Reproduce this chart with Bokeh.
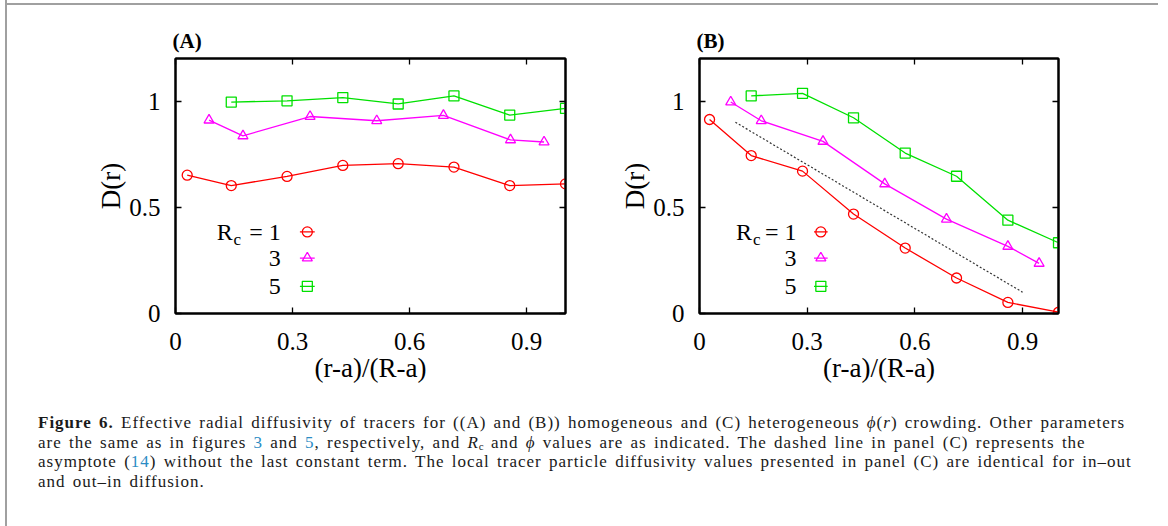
from bokeh.plotting import figure
from bokeh.models import Range1d, LinearAxis, FixedTicker, Label, Div, Spacer, Title
from bokeh.layouts import row, column
from bokeh.embed import file_html
from bokeh.resources import INLINE

# ---------------- data ----------------
x_ticks = [0, 0.3, 0.6, 0.9]
x_tick_labels = ["0", "0.3", "0.6", "0.9"]
y_ticks = [0, 0.5, 1]
y_tick_labels = ["0", "0.5", "1"]
x_title = "(r-a)/(R-a)"
y_title = "D(r)"
series_names = ["1", "3", "5"]

# Panel A (homogeneous)
a_rc1_x = [0.03, 0.143, 0.286, 0.429, 0.571, 0.714, 0.857, 1.0]
a_rc1_y = [0.651, 0.602, 0.645, 0.697, 0.705, 0.689, 0.602, 0.61]
a_rc3_x = [0.086, 0.173, 0.345, 0.516, 0.687, 0.859, 0.945]
a_rc3_y = [0.91, 0.836, 0.927, 0.907, 0.932, 0.817, 0.807]
a_rc5_x = [0.143, 0.286, 0.429, 0.571, 0.714, 0.857, 1.0]
a_rc5_y = [0.995, 1.001, 1.016, 0.986, 1.024, 0.934, 0.965]

# Panel B
b_rc1_x = [0.028, 0.144, 0.287, 0.429, 0.573, 0.716, 0.859, 1.0]
b_rc1_y = [0.913, 0.743, 0.670, 0.468, 0.308, 0.167, 0.052, 0.006]
b_rc3_x = [0.087, 0.172, 0.344, 0.516, 0.688, 0.859, 0.946]
b_rc3_y = [0.995, 0.907, 0.810, 0.610, 0.444, 0.316, 0.236]
b_rc5_x = [0.144, 0.287, 0.429, 0.573, 0.716, 0.859, 1.0]
b_rc5_y = [1.024, 1.036, 0.921, 0.755, 0.646, 0.439, 0.333]
b_asym_x = [0.1, 0.9]
b_asym_y = [0.9, 0.1]

# ---------------- style ----------------
FONT = "Liberation Serif"
COLORS = ["#ff0000", "#ff00ff", "#00e000"]
MARKERS = ["circle", "triangle", "square"]
GRAY = "#a0a0a0"


def style_axis(ax):
    ax.axis_line_width = 2
    ax.axis_line_color = "black"
    ax.major_tick_in = 6
    ax.major_tick_out = 0
    ax.major_tick_line_width = 1.3
    ax.major_tick_line_color = "black"
    ax.minor_tick_line_color = None
    ax.major_label_text_font = FONT
    ax.major_label_text_font_size = "25px"
    ax.major_label_text_color = "black"
    ax.axis_label_text_font = FONT
    ax.axis_label_text_font_size = "27px"
    ax.axis_label_text_font_style = "normal"
    ax.axis_label_text_color = "black"


def make_panel(width, left, right, tag, xs, ys, asym=None):
    ttl = Title(text=tag, align="left", offset=-3, text_font=FONT, text_font_size="21px",
                text_font_style="bold", text_color="black", standoff=11)
    p = figure(width=width, height=390, min_border_left=left, min_border_right=right,
               min_border_top=53, min_border_bottom=82,
               x_range=Range1d(0, 1), y_range=Range1d(0, 1.2),
               output_backend="svg", toolbar_location=None, title=ttl,
               x_axis_label=x_title, y_axis_label=y_title)
    p.grid.visible = False
    p.outline_line_color = "black"
    p.outline_line_width = 2
    p.background_fill_color = "white"
    p.border_fill_color = "white"

    xa = p.xaxis[0]
    xa.ticker = FixedTicker(ticks=x_ticks)
    xa.major_label_overrides = {float(v): l for v, l in zip(x_ticks, x_tick_labels)}
    style_axis(xa)
    xa.major_label_standoff = 19
    xa.axis_label_standoff = 0

    ya = p.yaxis[0]
    ya.ticker = FixedTicker(ticks=y_ticks)
    ya.major_label_overrides = {float(v): l for v, l in zip(y_ticks, y_tick_labels)}
    style_axis(ya)
    ya.major_label_standoff = 15
    ya.axis_label_standoff = 0

    top = LinearAxis(ticker=FixedTicker(ticks=x_ticks),
                     major_label_overrides={float(v): "" for v in x_ticks})
    style_axis(top)
    top.major_label_standoff = 0
    p.add_layout(top, "above")
    rgt = LinearAxis(ticker=FixedTicker(ticks=y_ticks),
                     major_label_overrides={float(v): "" for v in y_ticks})
    style_axis(rgt)
    rgt.major_label_standoff = 0
    p.add_layout(rgt, "right")

    if asym is not None:
        p.line(asym[0], asym[1], line_color="#333333", line_width=1.2, line_dash="2 2")

    for x, y, c, m in zip(xs, ys, COLORS, MARKERS):
        p.line(x, y, line_color=c, line_width=1.3)
        p.scatter(x, y, marker=m, size=10, fill_color=None, line_color=c, line_width=1.3)

    # legend (gnuplot style: text on left, sample on right)
    row_y = [0.384, 0.261, 0.128]
    for i, (name, c, m) in enumerate(zip(series_names, COLORS, MARKERS)):
        ry = row_y[i]
        txt = ("= " + name) if i == 0 else name
        p.add_layout(Label(x=0.27, y=ry, text=txt, text_font=FONT, text_font_size="24px",
                           text_align="right", text_baseline="middle", text_color="black"))
        p.line([0.319, 0.357], [ry, ry], line_color=c, line_width=1.3)
        p.scatter([0.338], [ry], marker=m, size=10, fill_color=None, line_color=c, line_width=1.3)
    p.add_layout(Label(x=0.1465, y=row_y[0], text="R", text_font=FONT, text_font_size="24px",
                       text_align="right", text_baseline="middle", text_color="black"))
    p.add_layout(Label(x=0.149, y=row_y[0] - 0.035, text="c", text_font=FONT, text_font_size="17px",
                       text_align="left", text_baseline="middle", text_color="black"))
    return p


pA = make_panel(610, 168, 52, "(A)", [a_rc1_x, a_rc3_x, a_rc5_x], [a_rc1_y, a_rc3_y, a_rc5_y])
pB = make_panel(541, 52, 100, "(B)", [b_rc1_x, b_rc3_x, b_rc5_x], [b_rc1_y, b_rc3_y, b_rc5_y],
                asym=(b_asym_x, b_asym_y))

BLUE = "#2b8cc4"
caption_lines = [
    '<b>Figure 6.</b> Effective radial diffusivity of tracers for ((A) and (B)) homogeneous and (C) '
    'heterogeneous <i>&#981;</i>(<i>r</i>) crowding. Other parameters',
    'are the same as in figures <span style="color:%s">3</span> and <span style="color:%s">5</span>, '
    'respectively, and <i>R</i><span style="position:relative; top:2px; font-size:11px; letter-spacing:0">c</span> and '
    '<i>&#981;</i> values are as indicated. The dashed line in panel (C) represents the' % (BLUE, BLUE),
    'asymptote (<span style="color:%s">14</span>) without the last constant term. The local tracer particle '
    'diffusivity values presented in panel (C) are identical for in&ndash;out' % BLUE,
    'and out&ndash;in diffusion.',
]
line_style = ("height:19.5px; line-height:19.5px; overflow:visible; white-space:nowrap; margin:0;")
caption_html = (
    '<div style="font-family: \'Liberation Serif\', serif; font-size: 17px; letter-spacing: 1px; '
    'word-spacing: 2px; color: #1a1a1a; padding-left: 26px; padding-top: 13px; margin: 0;">'
    + "".join('<div style="%s">%s</div>' % (line_style, t) for t in caption_lines)
    + '</div>'
)
caption = Div(text=caption_html, width=1151, height=131)

middle = column(
    Spacer(width=1151, height=3),
    Spacer(width=1151, height=2, styles={"background-color": GRAY}),
    row(pA, pB),
    caption,
)
layout = row(
    Spacer(width=5, height=526),
    Spacer(width=2, height=526, styles={"background-color": GRAY}),
    middle,
    Spacer(width=2, height=526, styles={"background-color": GRAY}),
    Spacer(width=8, height=526),
)

open("out.html", "w").write(file_html(layout, INLINE))
